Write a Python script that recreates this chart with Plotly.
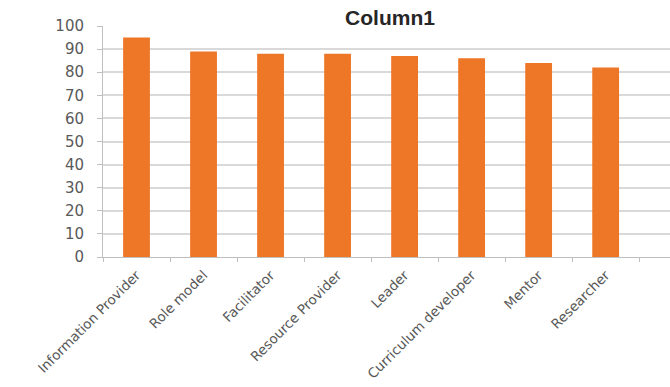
import plotly.graph_objects as go

categories = ["Information Provider", "Role model", "Facilitator", "Resource Provider",
              "Leader", "Curriculum developer", "Mentor", "Researcher"]
values = [95, 89, 88, 88, 87, 86, 84, 82]
y_ticks = list(range(0, 101, 10))

fig = go.Figure(go.Bar(x=categories, y=values, marker=dict(color="#EE7627", line=dict(width=0))))

fig.update_layout(
    width=670, height=387,
    margin=dict(l=103, r=0, t=26, b=130),
    paper_bgcolor="white", plot_bgcolor="white",
    bargap=0.6,
    showlegend=False,
    title=dict(text="<b>Column1</b>", x=390/670, xanchor="center", y=1-18/387, yanchor="middle",
               font=dict(family="Liberation Sans, Arial", size=21, color="#262626")),
)
fig.update_xaxes(
    range=[-0.5, 7.96], tickangle=-45, tickson="boundaries",
    ticks="outside", ticklen=4, tickcolor="#BFBFBF",
    showline=True, linecolor="#BFBFBF", linewidth=1,
    tickfont=dict(family="DejaVu Sans", size=13.5, color="#595959"),
    ticklabelstandoff=4, automargin=False,
    showgrid=False,
)
fig.update_yaxes(
    range=[0, 100], tickvals=y_ticks,
    showline=True, linecolor="#BFBFBF", linewidth=1,
    ticks="outside", ticklen=5, tickcolor="#BFBFBF",
    gridcolor="#D9D9D9", gridwidth=1.5,
    tickfont=dict(family="DejaVu Sans", size=15, color="#595959"),
    ticklabelstandoff=10, automargin=False,
    zeroline=False,
)
fig.write_html("out.html")
